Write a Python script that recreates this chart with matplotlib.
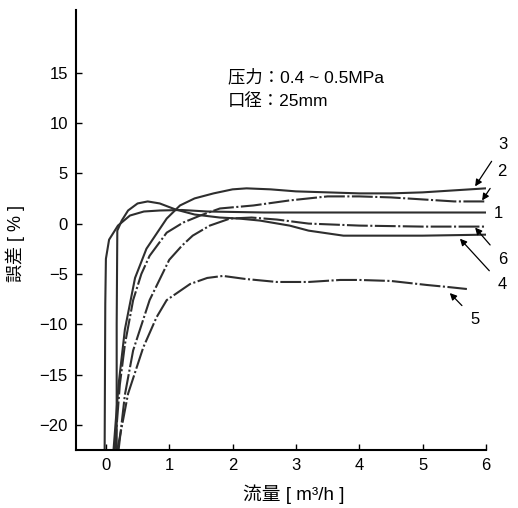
"""流量-誤差特性曲线"""

import matplotlib
matplotlib.use("Agg")
import matplotlib.pyplot as plt

plt.rcParams["font.family"] = ["Liberation Sans", "Noto Sans CJK JP", "DejaVu Sans"]
plt.rcParams["axes.unicode_minus"] = True

# ── 数据 ─────────────────────────────────────
x1 = [-0.02, -0.01, 0.0, 0.05, 0.19, 0.38, 0.6, 0.85, 1.2, 1.6, 2.5, 3.5, 4.5, 5.5, 6.0]
y1 = [-22.5, -8.0, -3.5, -1.6, -0.2, 0.8, 1.2, 1.3, 1.35, 1.2, 1.1, 1.1, 1.1, 1.1, 1.1]

x2 = [0.14, 0.22, 0.3, 0.43, 0.56, 0.69, 0.96, 1.22, 1.49, 1.8, 2.33, 2.9, 3.5, 4.0, 4.5, 5.0, 5.5, 6.0]
y2 = [-22.5, -16.0, -12.0, -7.6, -5.0, -3.2, -0.9, 0.1, 0.8, 1.5, 1.8, 2.3, 2.7, 2.7, 2.6, 2.4, 2.2, 2.2]

x3 = [0.12, 0.2, 0.3, 0.46, 0.64, 0.96, 1.17, 1.4, 1.7, 2.0, 2.22, 2.6, 3.0, 3.5, 4.0, 4.5, 5.0, 5.5, 6.0]
y3 = [-22.5, -16.0, -10.5, -5.4, -2.5, 0.5, 1.8, 2.5, 3.0, 3.4, 3.5, 3.4, 3.2, 3.1, 3.0, 3.0, 3.1, 3.3, 3.5]

x4 = [0.17, 0.17, 0.18, 0.25, 0.35, 0.5, 0.66, 0.85, 1.1, 1.4, 1.8, 2.1, 2.43, 2.9, 3.2, 3.75, 4.5, 5.0, 5.5, 6.0]
y4 = [-22.5, -10.0, -0.7, 0.3, 1.3, 2.0, 2.2, 2.0, 1.4, 0.9, 0.6, 0.5, 0.3, -0.2, -0.7, -1.2, -1.2, -1.2, -1.15, -1.1]

x5 = [0.18, 0.35, 0.59, 0.8, 0.96, 1.33, 1.6, 1.85, 2.2, 2.7, 3.2, 3.7, 4.0, 4.5, 5.07, 5.4, 5.7]
y5 = [-22.5, -16.9, -12.3, -9.3, -7.6, -6.0, -5.4, -5.2, -5.5, -5.8, -5.8, -5.6, -5.6, -5.7, -6.1, -6.3, -6.5]

x6 = [0.2, 0.3, 0.43, 0.69, 1.0, 1.2, 1.37, 1.64, 1.96, 2.3, 2.7, 3.2, 4.0, 5.0, 6.0]
y6 = [-22.5, -17.0, -12.6, -7.6, -3.6, -2.2, -1.2, -0.2, 0.5, 0.6, 0.4, 0.0, -0.2, -0.3, -0.3]

x_ticks = [0, 1, 2, 3, 4, 5, 6]
y_ticks = [-20, -15, -10, -5, 0, 5, 10, 15]

# 曲线编号标注：(编号, 箭头终点, 文字位置)
curve_labels = [
    ("3", (5.83, 3.7), (6.27, 7.9)),
    ("2", (5.94, 2.3), (6.25, 5.2)),
    ("6", (5.83, -0.4), (6.27, -3.6)),
    ("4", (5.59, -1.5), (6.26, -6.1)),
    ("5", (5.43, -6.9), (5.83, -9.5)),
]

LINE_COLOR = "#2e2e2e"
DASH = (0, (10, 1.2, 1, 1.2))

fig = plt.figure(figsize=(5.18, 5.08), dpi=100)
ax = fig.add_axes([0.147, 0.114, 0.791, 0.866])

ax.plot(x1, y1, color=LINE_COLOR, lw=1.5)
ax.plot(x2, y2, color=LINE_COLOR, lw=1.5, linestyle=DASH)
ax.plot(x3, y3, color=LINE_COLOR, lw=1.5)
ax.plot(x4, y4, color=LINE_COLOR, lw=1.5)
ax.plot(x5, y5, color=LINE_COLOR, lw=1.5, linestyle=DASH)
ax.plot(x6, y6, color=LINE_COLOR, lw=1.5, linestyle=DASH)

for name, tip, pos in curve_labels:
    ax.annotate(
        name, xy=tip, xytext=pos, fontsize=12, ha="center", va="center",
        annotation_clip=False,
        arrowprops=dict(arrowstyle="-|>", color="black", lw=0.9,
                        mutation_scale=10, shrinkA=6, shrinkB=0),
    )
ax.text(6.19, 1.0, "1", fontsize=12, ha="center", va="center", clip_on=False)

ax.text(1.93, 14.6, "压力：0.4 ~ 0.5MPa", fontsize=12.5, ha="left", va="center")
ax.text(1.93, 12.2, "口径：25mm", fontsize=12.5, ha="left", va="center")

ax.set_xlim(-0.47, 6.0)
ax.set_ylim(-22.5, 21.2)
ax.set_xticks(x_ticks)
ax.set_yticks(y_ticks)
ax.set_yticklabels([f"{v}".replace("-", "\u2212") for v in y_ticks])
ax.tick_params(direction="in", length=4, width=1, labelsize=12, pad=6)

for side in ("top", "right"):
    ax.spines[side].set_visible(False)
for side in ("left", "bottom"):
    ax.spines[side].set_linewidth(1.5)

ax.set_xlabel("流量 [ m³/h ]", fontsize=13.5)
ax.set_ylabel("誤差 [ % ]", fontsize=13)
ax.xaxis.set_label_coords(0.53, -0.078)
ax.yaxis.set_label_coords(-0.125, 0.47)

fig.savefig("out.png", dpi=100)
plt.close(fig)
